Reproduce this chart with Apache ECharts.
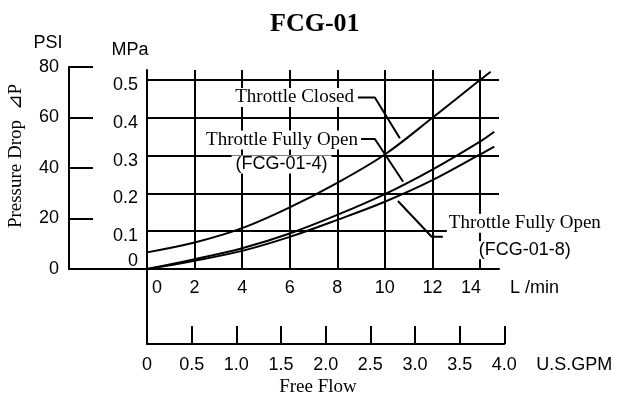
<!DOCTYPE html>
<html>
<head>
<meta charset="utf-8">
<script src="https://cdn.jsdelivr.net/npm/echarts@6/dist/echarts.min.js"></script>
<style>
  html, body { margin: 0; padding: 0; background: #fff; }
  #chart { width: 618px; height: 395px; }
</style>
</head>
<body>
<div id="chart"></div>
<script>
// Pressure drop curves: flow in L/min, pressure drop in MPa
const closedFlow = [0, 2, 4, 6, 8, 10, 12, 14, 14.45];
const closedMPa  = [0.044, 0.070, 0.108, 0.163, 0.228, 0.303, 0.400, 0.500, 0.522];
const open4Flow  = [0, 2, 4, 6, 8, 10, 12, 14, 14.6];
const open4MPa   = [0, 0.026, 0.055, 0.094, 0.143, 0.198, 0.263, 0.337, 0.363];
const open8Flow  = [0, 2, 4, 6, 8, 10, 12, 14, 14.6];
const open8MPa   = [0, 0.022, 0.048, 0.085, 0.130, 0.178, 0.235, 0.303, 0.324];

// Tick labels for the four scales
const lminTicks = ['0', '2', '4', '6', '8', '10', '12', '14'];
const mpaTicks  = ['0', '0.1', '0.2', '0.3', '0.4', '0.5'];
const psiTicks  = ['0', '20', '40', '60', '80'];
const gpmTicks  = ['0', '0.5', '1.0', '1.5', '2.0', '2.5', '3.0', '3.5', '4.0'];

// Curve callouts (L/min, MPa): label anchor, elbow, tip near the curve
const closedLeader = [[8.87, 0.454], [9.58, 0.454], [10.63, 0.346]];
const open4Leader  = [[9.00, 0.344], [9.58, 0.344], [10.77, 0.231]];
const open8Leader  = [[12.44, 0.0854], [11.97, 0.0854], [10.55, 0.180]];

const SANS = 'Liberation Sans, Arial, sans-serif';
const SERIF = 'Liberation Serif, Times New Roman, serif';
const INK = '#000';
const LW = 2;

function pairs(xs, ys) { return xs.map((x, i) => [x, ys[i]]); }
function pick(list, v, step) {
  const i = Math.round(v / step);
  if (Math.abs(v - i * step) > 1e-6 || i < 0 || i >= list.length) return null;
  return i;
}

const chart = echarts.init(document.getElementById('chart'), null, { renderer: 'canvas' });

const curve = (name, data) => ({
  name, type: 'line', xAxisIndex: 0, yAxisIndex: 0, data,
  smooth: 0.35, showSymbol: false, symbol: 'none', clip: false,
  lineStyle: { color: INK, width: LW }, silent: true, z: 5
});

const leader = (name, pts, label) => ({
  name, type: 'line', xAxisIndex: 0, yAxisIndex: 0,
  data: pts.map((p, i) => i === 0 ? { value: p, label } : { value: p }),
  symbol: 'circle', symbolSize: 0, showSymbol: true, showAllSymbol: true,
  clip: false, silent: true, z: 6,
  lineStyle: { color: INK, width: LW },
  itemStyle: { color: INK },
  label: { show: false },
  emphasis: { disabled: true }
});

const serifLine = (lh, pad) => ({
  fontFamily: SERIF, fontSize: 19, color: INK, lineHeight: lh,
  backgroundColor: '#fff', padding: pad
});
const sansLine = (lh, pad) => ({
  fontFamily: SANS, fontSize: 18, color: INK, lineHeight: lh,
  backgroundColor: '#fff', padding: pad, align: 'center'
});

chart.setOption({
  animation: false,
  backgroundColor: '#fff',
  title: {
    text: 'FCG-01', left: 270, top: 11, padding: 0,
    textStyle: { fontFamily: SERIF, fontWeight: 'bold', fontSize: 26, color: INK }
  },
  grid: [
    // pressure (MPa) vs flow (L/min)
    { left: 147, top: 70, width: 352, height: 199 },
    // PSI scale
    { left: 69, top: 67, width: 430, height: 202 },
    // U.S. GPM scale
    { left: 147, top: 269, width: 357.3, height: 75 }
  ],
  xAxis: [
    {
      gridIndex: 0, type: 'value', min: 0, max: 14.8, interval: 2,
      axisLine: { show: false }, axisTick: { show: false },
      splitLine: { show: true, showMinLine: true, showMaxLine: false, lineStyle: { color: INK, width: LW } },
      axisLabel: {
        margin: 10, fontFamily: SANS, fontSize: 18, color: INK,
        showMaxLabel: false,
        formatter: v => {
          const i = pick(lminTicks, v, 2);
          if (i === null) return '';
          if (i === 0) return '{z|' + lminTicks[i] + '}';
          if (i === lminTicks.length - 1) return '{e|' + lminTicks[i] + '}';
          return lminTicks[i];
        },
        rich: {
          z: { fontFamily: SANS, fontSize: 18, color: INK, padding: [0, 0, 0, 20] },
          e: { fontFamily: SANS, fontSize: 18, color: INK, padding: [0, 18, 0, 0] }
        }
      },
      name: 'L /min', nameLocation: 'end', nameGap: 11,
      nameTextStyle: { fontFamily: SANS, fontSize: 18, color: INK, align: 'left', verticalAlign: 'top', padding: [10, 0, 0, 0] }
    },
    {
      gridIndex: 1, type: 'value', min: 0, max: 1,
      axisLine: { show: true, lineStyle: { color: INK, width: LW } },
      axisTick: { show: false }, axisLabel: { show: false }, splitLine: { show: false }
    },
    {
      gridIndex: 2, type: 'value', min: 0, max: 4, interval: 0.5,
      axisLine: { show: true, lineStyle: { color: INK, width: LW } },
      axisTick: { show: true, inside: true, length: 18, lineStyle: { color: INK, width: LW } },
      splitLine: { show: false },
      axisLabel: {
        margin: 12, fontFamily: SANS, fontSize: 18, color: INK,
        formatter: v => { const i = pick(gpmTicks, v, 0.5); return i === null ? '' : gpmTicks[i]; }
      },
      name: 'U.S.GPM', nameLocation: 'end', nameGap: 32,
      nameTextStyle: { fontFamily: SANS, fontSize: 18, color: INK, align: 'left', verticalAlign: 'top', padding: [12, 0, 0, 0] }
    }
  ],
  yAxis: [
    {
      gridIndex: 0, type: 'value', min: 0, max: 0.5265, interval: 0.1,
      axisLine: { show: true, lineStyle: { color: INK, width: LW } },
      axisTick: { show: false },
      splitLine: { show: true, showMinLine: false, showMaxLine: false, lineStyle: { color: INK, width: LW } },
      axisLabel: {
        margin: 9, fontFamily: SANS, fontSize: 18, color: INK,
        showMaxLabel: false,
        formatter: v => {
          const i = pick(mpaTicks, v, 0.1);
          if (i === null) return '';
          return i === 0 ? '{z|' + mpaTicks[i] + '}' : '{n|' + mpaTicks[i] + '}';
        },
        rich: {
          n: { fontFamily: SANS, fontSize: 18, color: INK, padding: [10, 0, 0, 0] },
          z: { fontFamily: SANS, fontSize: 18, color: INK, padding: [0, 0, 16, 0] }
        }
      },
      name: 'MPa', nameLocation: 'end', nameGap: 20,
      nameTextStyle: { fontFamily: SANS, fontSize: 18, color: INK, align: 'center', verticalAlign: 'middle', padding: [0, 34, 0, 0] }
    },
    {
      gridIndex: 1, type: 'value', min: 0, max: 80, interval: 20,
      axisLine: { show: true, lineStyle: { color: INK, width: LW } },
      axisTick: { show: true, inside: true, length: 24, lineStyle: { color: INK, width: LW } },
      splitLine: { show: false },
      axisLabel: {
        margin: 10, fontFamily: SANS, fontSize: 18, color: INK,
        formatter: v => { const i = pick(psiTicks, v, 20); return i === null ? '' : psiTicks[i]; }
      },
      name: 'PSI', nameLocation: 'end', nameGap: 24,
      nameTextStyle: { fontFamily: SANS, fontSize: 18, color: INK, align: 'center', verticalAlign: 'middle', padding: [0, 42, 0, 0] }
    },
    {
      gridIndex: 2, type: 'value', min: 0, max: 1,
      axisLine: { show: true, lineStyle: { color: INK, width: LW } },
      axisTick: { show: false }, axisLabel: { show: false }, splitLine: { show: false }
    }
  ],
  graphic: [
    {
      type: 'text', x: 16, y: 156, rotation: Math.PI / 2, silent: true,
      style: { text: 'Pressure Drop  ⊿P', fontFamily: SERIF, fontSize: 19, fill: INK, align: 'center', verticalAlign: 'middle' }
    },
    {
      type: 'text', x: 318, y: 387, silent: true,
      style: { text: 'Free Flow', fontFamily: SERIF, fontSize: 19, fill: INK, align: 'center', verticalAlign: 'middle' }
    }
  ],
  series: [
    curve('Throttle Closed', pairs(closedFlow, closedMPa)),
    curve('Throttle Fully Open (FCG-01-4)', pairs(open4Flow, open4MPa)),
    curve('Throttle Fully Open (FCG-01-8)', pairs(open8Flow, open8MPa)),
    leader('Closed callout', closedLeader, {
      show: true, position: 'left', distance: 1,
      formatter: '{a|Throttle Closed}',
      rich: { a: serifLine(25, [0, 3, 0, 5]) }
    }),
    leader('FCG-01-4 callout', open4Leader, {
      show: true, position: 'left', distance: 1, offset: [0, 12],
      formatter: '{a|Throttle Fully Open}\n{b|(FCG-01-4)}',
      rich: { a: serifLine(27, [0, 2, 0, 3]), b: sansLine(22, [0, 4, 0, 4]) }
    }),
    leader('FCG-01-8 callout', open8Leader, {
      show: true, position: 'right', distance: 4,
      formatter: '{a|Throttle Fully Open}\n{b|(FCG-01-8)}',
      rich: { a: serifLine(27, [0, 2, 0, 2]), b: sansLine(27, [0, 0, 0, 0]) }
    })
  ]
});
</script>
</body>
</html>
